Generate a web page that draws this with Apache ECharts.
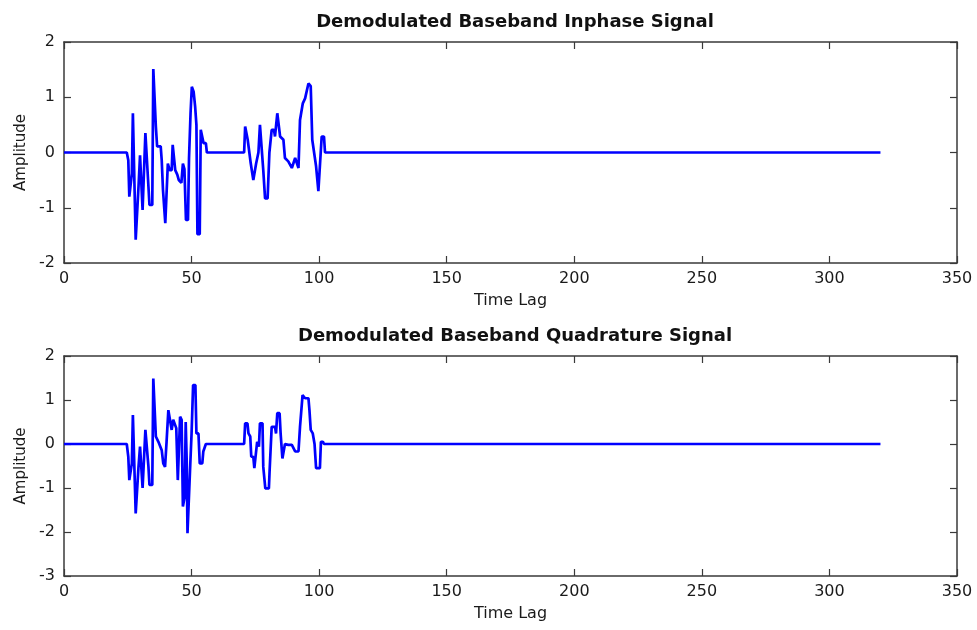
<!DOCTYPE html>
<html>
<head>
<meta charset="utf-8">
<script src="https://cdn.jsdelivr.net/npm/echarts@6/dist/echarts.min.js"></script>
<style>
html,body{margin:0;padding:0;background:#fff;}
#chart{width:977px;height:630px;}
</style>
</head>
<body>
<div id="chart"></div>
<script>
// ---------- data ----------
const titles = ["Demodulated Baseband Inphase Signal", "Demodulated Baseband Quadrature Signal"];
const xName = "Time Lag";
const yName = "Amplitude";
const xTicks = [0, 50, 100, 150, 200, 250, 300, 350];
const yTicksTop = [-2, -1, 0, 1, 2];
const yTicksBottom = [-3, -2, -1, 0, 1, 2];

// Inphase signal: time lag / amplitude
const tI = [0, 24.6, 25.2, 25.6, 26.3, 26.6, 27.0, 27.7, 28.1, 28.8, 29.2, 29.8, 30.4, 30.8, 31.5, 31.9, 32.6, 33.1, 33.5, 34.6,
  35.0, 35.6, 36.0, 36.5, 37.9, 38.3, 38.8, 39.3, 39.7, 40.3, 40.7, 41.4, 42.2, 42.6, 43.2, 43.6, 44.4, 45.0, 46.0, 46.6,
  47.2, 47.8, 48.6, 49.0, 49.6, 50.1, 50.8, 51.4, 51.9, 52.3, 53.2, 53.6, 54.3, 54.7, 55.6, 56.0,
  70.6, 71.0, 71.6, 72.0, 72.6, 73.2, 73.8, 74.2, 74.8, 75.3, 76.2, 76.8, 77.5, 78.1, 78.8, 79.8, 80.5, 81.4, 82.3, 82.7,
  83.6, 84.3, 84.7, 86.0, 86.6, 87.9, 89.3, 90.6, 91.9, 92.5, 93.6, 94.5, 95.8, 96.7, 97.3, 98.8, 99.7, 100.4, 101.0, 101.9,
  102.3, 320];
const vI = [0, 0, -0.14, -0.8, -0.8, -0.38, 0.71, 0.71, -1.58, -1.58, -0.62, -0.05, -0.05, -1.04, -1.04, 0.35, 0.35, -0.62, -0.95, -0.95,
  1.51, 1.51, 0.47, 0.11, 0.11, -0.14, -0.68, -0.68, -1.28, -1.28, -0.2, -0.32, -0.32, 0.14, 0.14, -0.32, -0.4, -0.5, -0.55, -0.2,
  -0.3, -1.22, -1.22, -0.1, 0.71, 1.19, 1.1, 0.83, 0.5, -1.48, -1.48, 0.41, 0.41, 0.17, 0.17, 0,
  0, 0.47, 0.47, 0.23, 0.2, -0.2, -0.2, -0.5, -0.5, -0.2, 0.0, 0.5, 0.5, -0.32, -0.83, -0.83, 0.0, 0.41, 0.41, 0.29,
  0.71, 0.71, 0.29, 0.23, -0.1, -0.16, -0.28, -0.1, -0.28, 0.59, 0.89, 0.98, 1.25, 1.2, 0.23, -0.25, -0.7, -0.7, 0.29, 0.29,
  0, 0];

// Quadrature signal: time lag / amplitude
const tQ = [0, 24.6, 25.2, 25.6, 26.3, 26.6, 27.0, 27.7, 28.1, 28.8, 29.2, 29.8, 30.4, 30.8, 31.5, 31.9, 32.6, 33.1, 33.5, 34.6,
  35.0, 35.6, 36.0, 37.0, 38.3, 38.9, 39.6, 40.2, 40.9, 41.6, 42.2, 42.8, 43.5, 44.0, 44.6, 45.1, 45.5, 46.1, 46.6, 47.3,
  47.7, 48.1, 48.4, 49.0, 49.4, 50.0, 50.6, 51.5, 51.9, 52.7, 53.2, 54.2, 54.6, 55.2, 55.6,
  70.6, 71.0, 71.9, 72.3, 73.0, 73.4, 74.2, 74.6, 75.3, 75.7, 76.4, 76.8, 77.8, 78.1, 78.9, 80.3, 80.6, 81.4, 82.7, 83.1,
  83.6, 84.5, 84.9, 85.6, 86.2, 86.6, 87.9, 89.3, 90.6, 91.9, 92.5, 93.5, 94.5, 95.8, 96.2, 96.7, 97.5, 98.2, 98.8, 99.4,
  100.3, 100.7, 101.5, 101.9, 320];
const vQ = [0, 0, -0.29, -0.82, -0.82, -0.44, 0.66, 0.66, -1.58, -1.58, -0.52, -0.06, -0.06, -1.0, -1.0, 0.32, 0.32, -0.52, -0.93, -0.93,
  1.49, 1.49, 0.17, 0.05, -0.14, -0.44, -0.52, 0.05, 0.77, 0.77, 0.32, 0.55, 0.55, 0.36, -0.82, -0.82, 0.62, 0.55, -1.42, -1.2,
  0.5, -0.4, -2.03, -2.03, -0.59, 0.24, 1.34, 1.34, 0.24, 0.24, -0.44, -0.44, -0.17, -0.17, 0,
  0, 0.47, 0.47, 0.24, 0.17, -0.29, -0.29, -0.55, -0.55, 0.05, -0.06, 0.47, 0.47, -0.52, -1.01, -1.01, -0.59, 0.39, 0.39, 0.24,
  0.7, 0.7, 0.24, -0.33, -0.33, 0.0, -0.02, -0.02, -0.17, -0.17, 0.39, 1.11, 1.04, 1.04, 0.77, 0.32, 0.24, 0.0, -0.55, -0.55,
  -0.55, 0.05, 0.05, 0, 0];

// ---------- chart ----------
const pairs = (t, v) => t.map((x, i) => [x, v[i]]);
const FONT = "DejaVu Sans";
const txt = '#1a1a1a';
const axCol = '#3a3a3a';

function xAxes(gi) {
  return [
    { gridIndex: gi, type: 'value', position: 'bottom', min: xTicks[0], max: xTicks[xTicks.length - 1], interval: 50,
      name: xName, nameLocation: 'middle', nameGap: 30,
      nameTextStyle: { fontFamily: FONT, fontSize: 16, color: txt },
      axisLine: { onZero: false, lineStyle: { color: axCol, width: 1.5 } },
      axisTick: { inside: true, length: 7, lineStyle: { color: axCol, width: 1.2 } },
      axisLabel: { fontFamily: FONT, fontSize: 16, color: txt, margin: 8 },
      splitLine: { show: false } },
    { gridIndex: gi, type: 'value', position: 'top', min: xTicks[0], max: xTicks[xTicks.length - 1], interval: 50,
      axisLine: { onZero: false, lineStyle: { color: axCol, width: 1.5 } },
      axisTick: { inside: true, length: 7, lineStyle: { color: axCol, width: 1.2 } },
      axisLabel: { show: false }, splitLine: { show: false } }
  ];
}
function yAxes(gi, ticks) {
  return [
    { gridIndex: gi, type: 'value', position: 'left', min: ticks[0], max: ticks[ticks.length - 1], interval: 1,
      name: yName, nameLocation: 'middle', nameGap: 34,
      nameTextStyle: { fontFamily: FONT, fontSize: 15, color: txt },
      axisLine: { onZero: false, lineStyle: { color: axCol, width: 1.5 } },
      axisTick: { inside: true, length: 7, lineStyle: { color: axCol, width: 1.2 } },
      axisLabel: { fontFamily: FONT, fontSize: 16, color: txt, margin: 9 },
      splitLine: { show: false } },
    { gridIndex: gi, type: 'value', position: 'right', min: ticks[0], max: ticks[ticks.length - 1], interval: 1,
      axisLine: { onZero: false, lineStyle: { color: axCol, width: 1.5 } },
      axisTick: { inside: true, length: 7, lineStyle: { color: axCol, width: 1.2 } },
      axisLabel: { show: false }, splitLine: { show: false } }
  ];
}

const chart = echarts.init(document.getElementById('chart'), null, { renderer: 'canvas' });
chart.setOption({
  backgroundColor: '#ffffff',
  animation: false,
  title: [
    { text: titles[0], left: 510, textAlign: 'center', top: 8,
      textStyle: { fontFamily: FONT, fontSize: 18, fontWeight: 'bold', color: '#111' } },
    { text: titles[1], left: 510, textAlign: 'center', top: 322,
      textStyle: { fontFamily: FONT, fontSize: 18, fontWeight: 'bold', color: '#111' } }
  ],
  grid: [
    { left: 64, top: 42, width: 893, height: 221 },
    { left: 64, top: 356, width: 893, height: 220 }
  ],
  xAxis: [...xAxes(0), ...xAxes(1)],
  yAxis: [...yAxes(0, yTicksTop), ...yAxes(1, yTicksBottom)],
  series: [
    { type: 'line', xAxisIndex: 0, yAxisIndex: 0, data: pairs(tI, vI), showSymbol: false,
      lineStyle: { color: '#0000ff', width: 2.7 }, z: 5 },
    { type: 'line', xAxisIndex: 2, yAxisIndex: 2, data: pairs(tQ, vQ), showSymbol: false,
      lineStyle: { color: '#0000ff', width: 2.7 }, z: 5 }
  ]
});
</script>
</body>
</html>
